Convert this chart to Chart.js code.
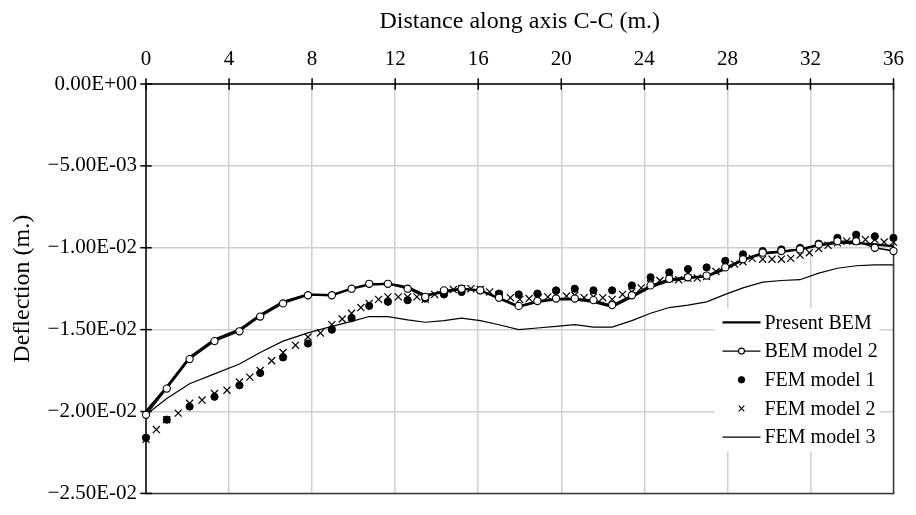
<!DOCTYPE html>
<html>
<head>
<meta charset="utf-8">
<title>Deflection along axis C-C</title>
<script src="https://cdn.jsdelivr.net/npm/chart.js@4.4.0/dist/chart.umd.min.js"></script>
<style>
  body { margin: 0; background: #fff; }
  #wrap { width: 916px; height: 515px; position: relative; }
</style>
</head>
<body>
<div id="wrap"><canvas id="chart"></canvas></div>
<script>
// distance along C-C (m.) of the nodes with markers
var stations = [0, 1, 2.1, 3.3, 4.5, 5.5, 6.6, 7.8, 8.95, 9.9, 10.75, 11.65, 12.6, 13.45, 14.35, 15.2, 16.1, 17,
    17.95, 18.85, 19.75, 20.65, 21.55, 22.45, 23.4, 24.3, 25.2, 26.1, 27, 27.9, 28.75, 29.7, 30.6, 31.5, 32.4,
    33.3, 34.2, 35.1, 36];

// deflections (m.)
var presentBem = [-0.0200, -0.0185, -0.0167, -0.0156, -0.0150, -0.0141, -0.0133, -0.01285, -0.0129, -0.0125,
    -0.01225, -0.0122, -0.0124, -0.0129, -0.0127, -0.0125, -0.0126, -0.0131, -0.0136, -0.0133, -0.01315,
    -0.01315, -0.0133, -0.0136, -0.0130, -0.0124, -0.0120, -0.01185, -0.01175, -0.0113, -0.01075, -0.01035,
    -0.01025, -0.0101, -0.00985, -0.0097, -0.0097, -0.0098, -0.0099];

var bemModel2 = [-0.0202, -0.0186, -0.0168, -0.0157, -0.0151, -0.0142, -0.0134, -0.0129, -0.0129, -0.0125,
    -0.0122, -0.0122, -0.0125, -0.0130, -0.0126, -0.0125, -0.0126, -0.01305, -0.01355, -0.01325, -0.0131,
    -0.0131, -0.0132, -0.0135, -0.0129, -0.0123, -0.0119, -0.0118, -0.0117, -0.0112, -0.0107, -0.0103,
    -0.0102, -0.0101, -0.0098, -0.0096, -0.0096, -0.0100, -0.0102];

var femModel1 = [-0.0216, -0.0205, -0.0197, -0.0191, -0.0184, -0.01765, -0.0167, -0.01585, -0.0150, -0.0143,
    -0.01355, -0.0133, -0.0132, -0.0131, -0.01285, -0.0127, -0.0126, -0.0128, -0.01285, -0.0128, -0.0126,
    -0.0125, -0.0126, -0.0126, -0.0123, -0.0118, -0.0115, -0.0113, -0.0112, -0.0108, -0.0104, -0.0102,
    -0.0101, -0.0100, -0.00975, -0.0094, -0.0092, -0.0093, -0.0094];

var femModel3 = [-0.0202, -0.0192, -0.0183, -0.0177, -0.0171, -0.0164, -0.0157, -0.0152, -0.0148, -0.0145,
    -0.0142, -0.0142, -0.0144, -0.01455, -0.01445, -0.0143, -0.01445, -0.0147, -0.0150, -0.0149, -0.0148,
    -0.0147, -0.01485, -0.01485, -0.01445, -0.0140, -0.01365, -0.0135, -0.0133, -0.01285, -0.01245, -0.0121,
    -0.0120, -0.01195, -0.01155, -0.01125, -0.0111, -0.01105, -0.01105];

// FEM model 2 has a finer mesh
var fem2Stations = [0, 0.5, 1, 1.55, 2.1, 2.7, 3.3, 3.9, 4.5, 5, 5.5, 6.05, 6.6, 7.2, 7.8, 8.4, 8.95, 9.45, 9.9,
    10.35, 10.75, 11.2, 11.65, 12.15, 12.6, 13.05, 13.45, 13.9, 14.35, 14.8, 15.2, 15.65, 16.1, 16.55, 17,
    17.55, 18, 18.45, 18.9, 19.35, 19.75, 20.25, 20.65, 21.1, 21.55, 22, 22.45, 22.95, 23.4, 23.85, 24.3,
    24.75, 25.2, 25.65, 26.1, 26.55, 27, 27.45, 27.9, 28.35, 28.75, 29.2, 29.7, 30.15, 30.6, 31.05, 31.5,
    31.95, 32.4, 32.85, 33.3, 33.75, 34.2, 34.65, 35.1, 35.55, 36];
var femModel2 = [-0.0217, -0.0211, -0.0205, -0.0201, -0.0195, -0.0193, -0.0189, -0.0187, -0.0182, -0.0179,
    -0.0175, -0.0169, -0.0164, -0.01595, -0.01545, -0.0152, -0.0147, -0.01435, -0.0140, -0.01365, -0.0134,
    -0.01315, -0.0130, -0.0130, -0.0130, -0.0130, -0.01315, -0.01285, -0.0127, -0.01255, -0.0125, -0.0125,
    -0.01255, -0.0127, -0.01285, -0.01305, -0.01315, -0.0131, -0.01305, -0.0130, -0.0129, -0.01295, -0.0129,
    -0.01305, -0.0130, -0.01305, -0.01315, -0.01285, -0.0127, -0.01245, -0.0122, -0.0120, -0.0119, -0.01195,
    -0.01185, -0.01185, -0.01175, -0.01145, -0.01105, -0.0110, -0.01085, -0.01065, -0.0107, -0.0107, -0.0107,
    -0.01065, -0.01045, -0.0103, -0.01005, -0.00985, -0.0097, -0.0096, -0.0096, -0.0095, -0.0095, -0.00965,
    -0.00965];

var xTickValues = [0, 4, 8, 12, 16, 20, 24, 28, 32, 36];
var yTickValues = [0, -0.005, -0.01, -0.015, -0.02, -0.025];

var serif = '"Liberation Serif", "Times New Roman", serif';
Chart.defaults.font.family = serif;
Chart.defaults.color = '#000';

function pairs(xs, ys) {
    var out = [];
    for (var i = 0; i < xs.length; i++) out.push({ x: xs[i], y: ys[i] });
    return out;
}

// 0.00E+00 style labels
function sciLabel(v) {
    if (Math.abs(v) < 1e-12) return '0.00E+00';
    var parts = v.toExponential(2).split('e');
    var mant = parts[0].replace('-', '\u2212');
    var ex = parseInt(parts[1], 10);
    return mant + 'E' + (ex < 0 ? '-' : '+') + (Math.abs(ex) < 10 ? '0' : '') + Math.abs(ex);
}

function line(ctx, x1, y1, x2, y2) {
    ctx.beginPath();
    ctx.moveTo(x1, y1);
    ctx.lineTo(x2, y2);
    ctx.stroke();
}

// axes with ticks crossing them, plus the frame
var frame = {
    id: 'frame',
    beforeDatasetsDraw: function (chart) {
        var ctx = chart.ctx, a = chart.chartArea;
        var xs = chart.scales.x, ys = chart.scales.y;
        ctx.save();
        ctx.lineCap = 'square';
        ctx.strokeStyle = '#3a3a3a';
        ctx.lineWidth = 1.5;
        line(ctx, a.right, a.top, a.right, a.bottom);
        line(ctx, a.left, a.bottom, a.right, a.bottom);
        ctx.strokeStyle = '#000';
        line(ctx, a.left, a.top, a.right, a.top);
        line(ctx, a.left, a.top, a.left, a.bottom);
        xTickValues.forEach(function (v) {
            var px = xs.getPixelForValue(v);
            line(ctx, px, a.top - 5, px, a.top + 5);
        });
        yTickValues.forEach(function (v) {
            var py = ys.getPixelForValue(v);
            line(ctx, a.left - 5, py, a.left + 5, py);
        });
        ctx.restore();
    }
};

// legend box sitting inside the plot, lower right
var boxLegend = {
    id: 'boxLegend',
    afterDraw: function (chart) {
        var ctx = chart.ctx, a = chart.chartArea;
        var left = a.right - 179, top = a.bottom - 185, rowH = 28.7;
        ctx.save();
        ctx.fillStyle = '#fff';
        ctx.fillRect(left, top, 165, 143);
        chart.data.datasets.forEach(function (ds, i) {
            var cy = top + 14 + i * rowH;
            var sx = left + 8, ex = left + 46;
            ctx.strokeStyle = '#000';
            ctx.fillStyle = '#000';
            if (ds.showLine) {
                ctx.lineWidth = ds.borderWidth;
                line(ctx, sx, cy, ex, cy);
            }
            if (ds.pointRadius > 0) {
                ctx.fillStyle = ds.pointBackgroundColor;
                ctx.strokeStyle = ds.pointBorderColor;
                ctx.lineWidth = ds.pointBorderWidth;
                Chart.helpers.drawPoint(ctx, {
                    pointStyle: ds.pointStyle,
                    radius: ds.legendRadius,
                    borderWidth: ds.pointBorderWidth,
                    rotation: 0
                }, (sx + ex) / 2, cy);
            }
            ctx.fillStyle = '#000';
            ctx.font = '20px ' + serif;
            ctx.textBaseline = 'middle';
            ctx.textAlign = 'left';
            ctx.fillText(ds.label, ex + 4, cy + 1);
        });
        ctx.restore();
    }
};

var ctx = document.getElementById('chart').getContext('2d');
new Chart(ctx, {
    type: 'scatter',
    data: {
        datasets: [{
            label: 'Present BEM',
            data: pairs(stations, presentBem),
            showLine: true,
            borderColor: '#000',
            borderWidth: 2.4,
            pointRadius: 0,
            order: 3,
            clip: false
        }, {
            label: 'BEM model 2',
            data: pairs(stations, bemModel2),
            showLine: true,
            borderColor: '#000',
            borderWidth: 1.4,
            pointStyle: 'circle',
            pointRadius: 3.6,
            legendRadius: 3,
            pointBackgroundColor: '#fff',
            pointBorderColor: '#000',
            pointBorderWidth: 1.1,
            order: 0,
            clip: false
        }, {
            label: 'FEM model 1',
            data: pairs(stations, femModel1),
            showLine: false,
            pointStyle: 'circle',
            pointRadius: 3.6,
            legendRadius: 3.2,
            pointBackgroundColor: '#000',
            pointBorderColor: '#000',
            pointBorderWidth: 1,
            order: 1,
            clip: false
        }, {
            label: 'FEM model 2',
            data: pairs(fem2Stations, femModel2),
            showLine: false,
            pointStyle: 'crossRot',
            pointRadius: 5,
            legendRadius: 4,
            pointBackgroundColor: '#000',
            pointBorderColor: '#000',
            pointBorderWidth: 1.2,
            order: 2,
            clip: false
        }, {
            label: 'FEM model 3',
            data: pairs(stations, femModel3),
            showLine: true,
            borderColor: '#000',
            borderWidth: 1.2,
            pointRadius: 0,
            order: 4,
            clip: false
        }]
    },
    options: {
        responsive: true,
        maintainAspectRatio: false,
        animation: false,
        layout: { padding: { left: 0, top: 0, right: 17, bottom: 16 } },
        plugins: {
            legend: { display: false },
            tooltip: { enabled: false }
        },
        scales: {
            x: {
                type: 'linear',
                position: 'top',
                min: 0,
                max: 36,
                afterBuildTicks: function (s) {
                    s.ticks = xTickValues.map(function (v) { return { value: v }; });
                },
                afterFit: function (s) { s.height = 84; },
                ticks: { font: { size: 21 }, padding: 12 },
                grid: { color: '#cfcfcf', lineWidth: 1.5, drawTicks: false },
                border: { display: false },
                title: {
                    display: true,
                    text: 'Distance along axis C-C (m.)',
                    font: { size: 24 },
                    padding: { top: 7, bottom: 0 }
                }
            },
            y: {
                type: 'linear',
                min: -0.025,
                max: 0,
                afterBuildTicks: function (s) {
                    s.ticks = yTickValues.map(function (v) { return { value: v }; });
                },
                afterFit: function (s) { s.width = 146; },
                ticks: {
                    font: { size: 21 },
                    padding: 9,
                    callback: function (v) { return sciLabel(v); }
                },
                grid: { color: '#cfcfcf', lineWidth: 1.5, drawTicks: false },
                border: { display: false },
                title: {
                    display: true,
                    text: 'Deflection (m.)',
                    font: { size: 24 },
                    padding: { top: 8, bottom: 0 }
                }
            }
        }
    },
    plugins: [frame, boxLegend]
});
</script>
</body>
</html>
